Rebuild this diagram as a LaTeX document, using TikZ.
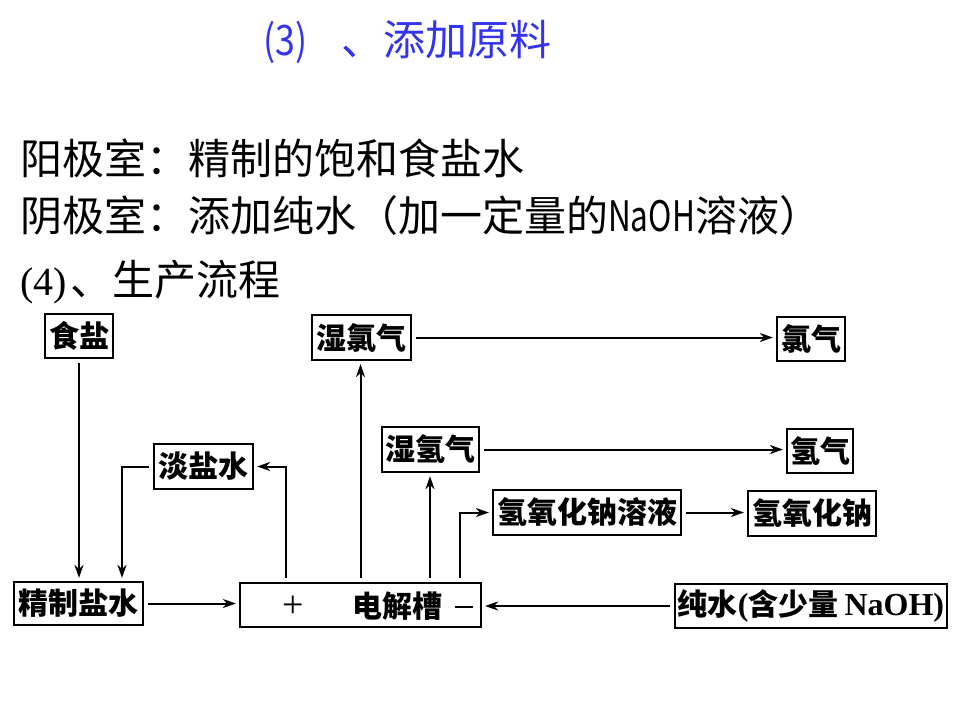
\documentclass[tikz,border=0pt]{standalone}
\usepackage{fontspec}
\newfontfamily\cjk{Noto Sans CJK SC}
\newfontfamily\serif{Liberation Serif}
\usetikzlibrary{arrows.meta}
\definecolor{headblue}{RGB}{51,51,240}
\begin{document}
\begin{tikzpicture}[x=1pt,y=-1pt,
  box/.style={draw, line width=2.2pt, inner sep=0pt, font=\cjk\bfseries\fontsize{30}{30}\selectfont},
  arr/.style={-{Stealth[length=13pt,width=9pt,inset=4pt]}, line width=2pt, shorten >=3pt, shorten <=4pt},
  head/.style={anchor=base west, inner sep=0pt, font=\cjk\fontsize{42}{42}\selectfont}]
\useasboundingbox (0,0) rectangle (960,720);
% headings
\node[head, text=headblue] (h3) at (263,55) {\scalebox{0.85}[1]{(3)}\hspace{34pt}、添加原料};
\node[head] (l1) at (20,174) {阳极室：精制的饱和食盐水};
\node[head] (l2) at (20,231) {阴极室：添加纯水（加一定量的\scalebox{0.75}[1]{NaOH}溶液）};
\node[head, font=\cjk\fontsize{42}{42}\selectfont] (h4) at (20,295) {{\serif\fontsize{40}{40}\selectfont (4)}\hspace{4pt}、生产流程};
% boxes
\node[box, minimum width=68pt, minimum height=44pt] (shiyan) at (79,336) {食盐};
\node[box, minimum width=99pt, minimum height=45pt] (shilv) at (361.5,337.5) {湿氯气};
\node[box, minimum width=68pt, minimum height=44pt] (lvqi) at (811,339) {氯气};
\node[box, minimum width=97pt, minimum height=45pt] (shiqing) at (430.5,449.5) {湿氢气};
\node[box, minimum width=66pt, minimum height=44pt] (qingqi) at (820,451) {氢气};
\node[box, minimum width=99pt, minimum height=45pt] (danyan) at (203.5,466.5) {淡盐水};
\node[box, minimum width=188pt, minimum height=45pt] (naohsol) at (587,512.5) {氢氧化钠溶液};
\node[box, minimum width=128pt, minimum height=45pt] (naoh) at (812,513.5) {氢氧化钠};
\node[box, minimum width=129pt, minimum height=43pt] (jingzhi) at (78.5,603.5) {精制盐水};
\node[box, minimum width=241pt, minimum height=44pt] (dianjie) at (360.5,605) {};
\node[box, minimum width=272pt, minimum height=44pt] (chunshui) at (811,606)
  {纯水{\serif\fontsize{32}{32}\selectfont(}含少量\hspace{6pt}{\serif\fontsize{32}{32}\selectfont NaOH)}};
% text inside the cell
\node[font=\serif\fontsize{38}{38}\selectfont, inner sep=0pt] (plus) at (293,607) {+};
\node[font=\cjk\bfseries\fontsize{30}{30}\selectfont, inner sep=0pt] (cell) at (397,606) {电解槽};
\node[inner sep=0pt] (minus) at (464,607) {\rule{18pt}{2.4pt}};
% connectors
\draw[arr] (shiyan.south) -- (shiyan.south |- jingzhi.north);
\draw[arr] (danyan.west) -| ([xshift=43.5pt]jingzhi.north);
\draw[arr] ([xshift=-74.5pt]dianjie.north) |- (danyan.east);
\draw[arr] (dianjie.north) -- (dianjie.north |- shilv.south);
\draw[arr] ([xshift=69.5pt]dianjie.north) -- ([xshift=69.5pt]dianjie.north |- shiqing.south);
\draw[arr] ([xshift=99.5pt]dianjie.north) |- (naohsol.west);
\draw[arr] (shilv.east) -- (shilv.east -| lvqi.west);
\draw[arr] (shiqing.east) -- (shiqing.east -| qingqi.west);
\draw[arr] (naohsol.east) -- (naohsol.east -| naoh.west);
\draw[arr] (chunshui.west) -- (chunshui.west -| dianjie.east);
\draw[arr] (jingzhi.east) -- (jingzhi.east -| dianjie.west);
\end{tikzpicture}
\end{document}
